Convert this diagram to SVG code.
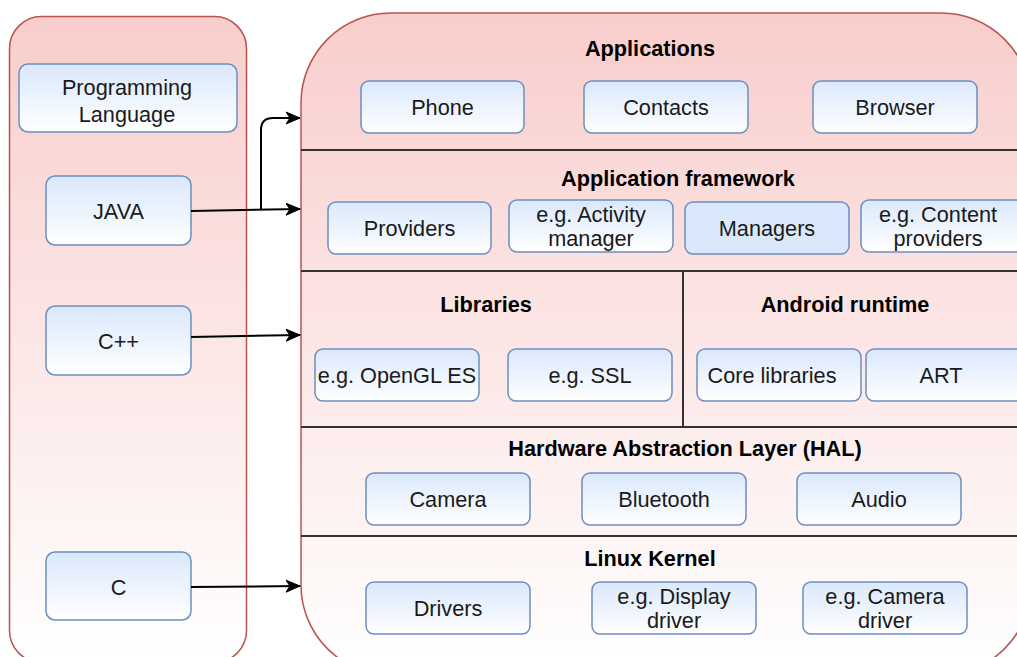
<svg xmlns="http://www.w3.org/2000/svg" width="1017" height="657" viewBox="0 0 1017 657">
  <defs>
    <linearGradient id="pinkL" x1="0" y1="0" x2="0" y2="1">
      <stop offset="0" stop-color="#f8cecc"/>
      <stop offset="1" stop-color="#ffffff"/>
    </linearGradient>
    <linearGradient id="pinkR" x1="0" y1="0" x2="0" y2="1">
      <stop offset="0" stop-color="#f8cecc"/>
      <stop offset="1" stop-color="#ffffff"/>
    </linearGradient>
    <linearGradient id="blue" x1="0" y1="0" x2="0" y2="1">
      <stop offset="0" stop-color="#dae8fc"/>
      <stop offset="1" stop-color="#ffffff"/>
    </linearGradient>
    <marker id="arrow" markerUnits="userSpaceOnUse" markerWidth="16" markerHeight="14" refX="14" refY="7" orient="auto">
      <path d="M0,1 L14,7 L0,13 L4,7 Z" fill="#000" stroke="#000" stroke-width="1" stroke-linejoin="miter"/>
    </marker>
    <style>
      .panel { stroke: #b85450; stroke-width: 1.5; }
      .box { fill: url(#blue); stroke: #6c8ebf; stroke-width: 1.5; }
      .solid { fill: #dae8fc; stroke: #6c8ebf; stroke-width: 1.5; }
      .div { stroke: #333333; stroke-width: 2; fill: none; }
      .lbl { font-family: "Liberation Sans", Arial, sans-serif; font-size: 21.7px; fill: #1a1a1a; text-anchor: middle; }
      .ttl { font-family: "Liberation Sans", Arial, sans-serif; font-size: 21.7px; font-weight: bold; fill: #000; text-anchor: middle; }
      .conn { stroke: #000; stroke-width: 2; fill: none; }
    </style>
  </defs>

  <!-- Panels -->
  <g id="left-panel">
    <rect class="panel" x="9.5" y="16.5" width="237" height="646" rx="32" ry="32" fill="url(#pinkL)"/>
  </g>
  <g id="right-panel">
    <rect class="panel" x="301" y="13" width="730" height="662" rx="90" ry="90" fill="url(#pinkR)"/>
    <line class="div" x1="301" y1="150" x2="1017" y2="150"/>
    <line class="div" x1="301" y1="271" x2="1017" y2="271"/>
    <line class="div" x1="301" y1="427" x2="1017" y2="427"/>
    <line class="div" x1="301" y1="536" x2="1017" y2="536"/>
    <line class="div" x1="683" y1="271" x2="683" y2="427"/>
    <text class="ttl" x="650" y="55.5">Applications</text>
    <text class="ttl" x="678" y="186">Application framework</text>
    <text class="ttl" x="486" y="311.5">Libraries</text>
    <text class="ttl" x="845" y="311.5">Android runtime</text>
    <text class="ttl" x="685" y="455.5">Hardware Abstraction Layer (HAL)</text>
    <text class="ttl" x="650" y="566">Linux Kernel</text>
  </g>

  <!-- Left nodes -->
  <g id="prog-lang">
    <rect class="box" x="19" y="64" width="218" height="68" rx="9"/>
    <text class="lbl" x="127" y="94.5">Programming</text>
    <text class="lbl" x="127" y="121.5">Language</text>
  </g>
  <g id="java">
    <rect class="box" x="46" y="176" width="145" height="69" rx="9"/>
    <text class="lbl" x="118.5" y="219">JAVA</text>
  </g>
  <g id="cpp">
    <rect class="box" x="46" y="306" width="145" height="69" rx="9"/>
    <text class="lbl" x="118.5" y="349">C++</text>
  </g>
  <g id="c">
    <rect class="box" x="46" y="552" width="145" height="68" rx="9"/>
    <text class="lbl" x="118.5" y="595">C</text>
  </g>

  <!-- Applications -->
  <g id="phone">
    <rect class="box" x="361" y="81" width="163" height="52" rx="8"/>
    <text class="lbl" x="442.5" y="115">Phone</text>
  </g>
  <g id="contacts">
    <rect class="box" x="584" y="81" width="164" height="52" rx="8"/>
    <text class="lbl" x="666" y="115">Contacts</text>
  </g>
  <g id="browser">
    <rect class="box" x="813" y="81" width="164" height="52" rx="8"/>
    <text class="lbl" x="895" y="115">Browser</text>
  </g>

  <!-- Application framework -->
  <g id="providers">
    <rect class="box" x="328" y="202" width="163" height="52" rx="8"/>
    <text class="lbl" x="409.5" y="236">Providers</text>
  </g>
  <g id="activity-manager">
    <rect class="box" x="509" y="200" width="164" height="52" rx="8"/>
    <text class="lbl" x="591" y="222">e.g. Activity</text>
    <text class="lbl" x="591" y="246">manager</text>
  </g>
  <g id="managers">
    <rect class="solid" x="685" y="202" width="164" height="52" rx="8"/>
    <text class="lbl" x="767" y="236">Managers</text>
  </g>
  <g id="content-providers">
    <rect class="box" x="861" y="200" width="164" height="52" rx="8"/>
    <text class="lbl" x="938" y="222">e.g. Content</text>
    <text class="lbl" x="938" y="246">providers</text>
  </g>

  <!-- Libraries / runtime -->
  <g id="opengl">
    <rect class="box" x="315" y="349" width="164" height="52" rx="8"/>
    <text class="lbl" x="397" y="383">e.g. OpenGL ES</text>
  </g>
  <g id="ssl">
    <rect class="box" x="508" y="349" width="164" height="52" rx="8"/>
    <text class="lbl" x="590" y="383">e.g. SSL</text>
  </g>
  <g id="core-libraries">
    <rect class="box" x="697" y="349" width="164" height="52" rx="8"/>
    <text class="lbl" x="772" y="383">Core libraries</text>
  </g>
  <g id="art">
    <rect class="box" x="866" y="349" width="164" height="52" rx="8"/>
    <text class="lbl" x="941" y="383">ART</text>
  </g>

  <!-- HAL -->
  <g id="camera">
    <rect class="box" x="366" y="473" width="164" height="52" rx="8"/>
    <text class="lbl" x="448" y="507">Camera</text>
  </g>
  <g id="bluetooth">
    <rect class="box" x="582" y="473" width="164" height="52" rx="8"/>
    <text class="lbl" x="664" y="507">Bluetooth</text>
  </g>
  <g id="audio">
    <rect class="box" x="797" y="473" width="164" height="52" rx="8"/>
    <text class="lbl" x="879" y="507">Audio</text>
  </g>

  <!-- Linux kernel -->
  <g id="drivers">
    <rect class="box" x="366" y="582" width="164" height="52" rx="8"/>
    <text class="lbl" x="448" y="616">Drivers</text>
  </g>
  <g id="display-driver">
    <rect class="box" x="592" y="582" width="164" height="52" rx="8"/>
    <text class="lbl" x="674" y="604">e.g. Display</text>
    <text class="lbl" x="674" y="628">driver</text>
  </g>
  <g id="camera-driver">
    <rect class="box" x="803" y="582" width="164" height="52" rx="8"/>
    <text class="lbl" x="885" y="604">e.g. Camera</text>
    <text class="lbl" x="885" y="628">driver</text>
  </g>

  <!-- Connectors -->
  <g id="connectors">
    <path class="conn" d="M191,211 L300,209" marker-end="url(#arrow)"/>
    <path class="conn" d="M261,210 L261,130 Q261,118 273,118 L300,118" marker-end="url(#arrow)"/>
    <path class="conn" d="M191,337 L300,335" marker-end="url(#arrow)"/>
    <path class="conn" d="M191,587 L300,586" marker-end="url(#arrow)"/>
  </g>
</svg>
